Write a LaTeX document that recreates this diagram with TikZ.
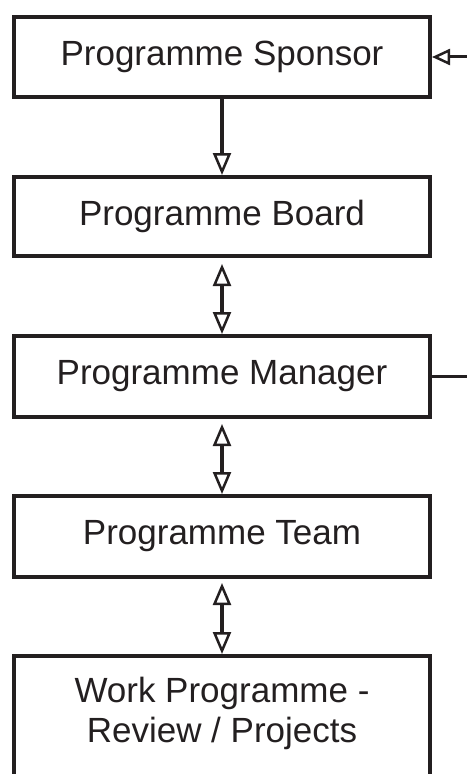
\documentclass[tikz,border=0pt]{standalone}
\usepackage{fontspec}
\setmainfont{Liberation Sans}
\usetikzlibrary{arrows.meta}
\definecolor{ink}{HTML}{231F20}
\begin{document}
\begin{tikzpicture}[x=1bp,y=-1bp,
  box/.style={draw=ink, line width=4bp, rectangle, minimum width=416bp,
    inner sep=0pt, text=ink, font=\fontsize{35bp}{40bp}\selectfont},
  label text/.style={text=ink, align=center, inner sep=0pt,
    font=\fontsize{35bp}{40bp}\selectfont},
  link/.style={draw=ink, line width=4.5bp},
  tip/.tip={Triangle[open, length=22bp, width=18bp, line width=2.5bp, fill=white]},
  smalltip/.tip={Triangle[open, length=18bp, width=16bp, line width=2.5bp, fill=white]}]
\useasboundingbox (0,0) rectangle (467,774);
\clip (0,0) rectangle (467,774);

% organisation boxes
\node[box, minimum height=80bp] (sponsor) at (222,57) {Programme Sponsor};
\node[box, minimum height=79bp] (board)   at (222,216.5) {Programme Board};
\node[box, minimum height=81bp] (manager) at (222,376.5) {Programme Manager};
\node[box, minimum height=81bp] (team)    at (222,536.5) {Programme Team};
\node[box, minimum height=160bp, anchor=north] (work) at (222,654) {};
\node[label text] (worktext) at (222,713) {Work Programme -\\Review / Projects};

% vertical reporting links
\draw[link, -{tip}] (sponsor) -- (board);
\draw[link, {tip}-{tip}, shorten <=6bp] (board) -- (manager);
\draw[link, {tip}-{tip}, shorten <=5bp] (manager) -- (team);
\draw[link, {tip}-{tip}, shorten <=4bp] (team) -- (work);

% feedback loop leaving on the right
\coordinate (loopin)  at (480,57);
\coordinate (loopout) at (480,376.5);
\draw[draw=ink, line width=3bp, -{smalltip}] (loopin) -- (sponsor.east);
\draw[draw=ink, line width=3bp] (manager.east) -- (loopout);
\end{tikzpicture}
\end{document}
